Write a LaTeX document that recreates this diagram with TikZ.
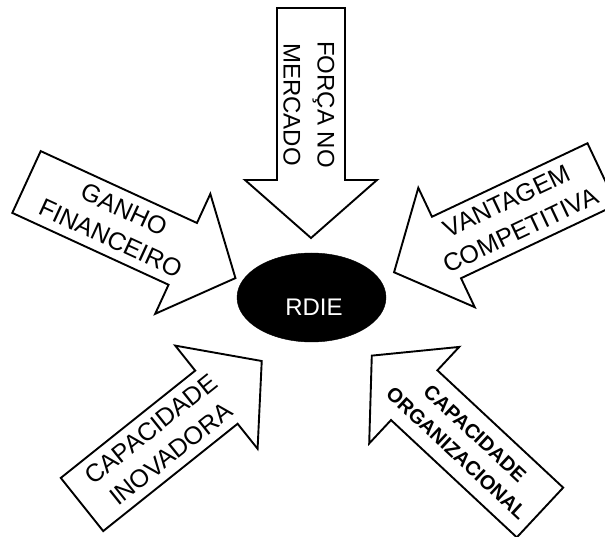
\documentclass[tikz,border=0pt]{standalone}
\usepackage{fontspec}
\setmainfont{Liberation Sans}
\usetikzlibrary{shapes.geometric}
\begin{document}
\begin{tikzpicture}[x=1pt,y=1pt,
  arrowbody/.style={draw=black, fill=white, line width=1.9pt, line join=miter},
  lbl/.style={font=\fontsize{25}{32}\selectfont, align=center, inner sep=0pt, transform shape},
  lblbold/.style={font=\fontsize{20}{27}\selectfont\bfseries, align=center, inner sep=0pt, transform shape},
  pics/blockarrow/.style={code={
    \draw[arrowbody] (0,-34) -- (172,-34) -- (172,-66) -- (230,0)
      -- (172,66) -- (172,34) -- (0,34) -- cycle;
  }}
]
\useasboundingbox (0,0) rectangle (605,536);
\clip (0,0) rectangle (605,536);

% top: market force
\begin{scope}[shift={(311,528)}, rotate=-90]
  \pic[transform shape] {blockarrow};
  \node[lbl, font=\fontsize{24}{34}\selectfont] (forca) at (96.5,-2) {FORÇA NO\\MERCADO};
\end{scope}

% left: financial gain
\begin{scope}[shift={(26.5,354)}, rotate=-24.7]
  \pic[transform shape] {blockarrow};
  \node[lbl] (ganho) at (100,0) {GANHO\\FINANCEIRO};
\end{scope}

% right: competitive advantage
\begin{scope}[shift={(602,362)}, rotate=205.3]
  \pic[transform shape] {blockarrow};
  \node[lbl, rotate=180] (vantagem) at (97.5,0) {VANTAGEM\\COMPETITIVA};
\end{scope}

% bottom left: innovative capacity
\begin{scope}[shift={(82,31.5)}, rotate=38.6]
  \pic[transform shape] {blockarrow};
  \node[lbl] (inovadora) at (101,0) {CAPACIDADE\\INOVADORA};
\end{scope}

% bottom right: organisational capacity
\begin{scope}[shift={(540,23.5)}, rotate=137]
  \pic[transform shape] {blockarrow};
  \node[lblbold, rotate=180] (organizacional) at (101.5,0) {CAPACIDADE\\ORGANIZACIONAL};
\end{scope}

% centre
\node[ellipse, draw=black, fill=black, minimum width=149pt, minimum height=89pt, inner sep=0pt]
  (rdie) at (311.5,238.5) {};
\node[text=white, font=\fontsize{24}{28}\selectfont, inner sep=0pt] (rdietext) at (314,228.5) {RDIE};
\end{tikzpicture}
\end{document}
